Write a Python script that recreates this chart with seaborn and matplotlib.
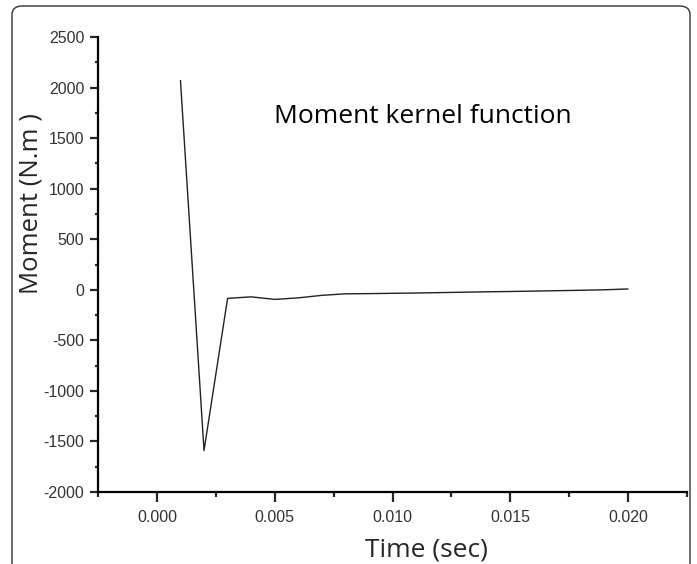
import numpy as np
import pandas as pd
import matplotlib
matplotlib.use("Agg")
import matplotlib.pyplot as plt
import seaborn as sns
from matplotlib.patches import FancyBboxPatch
from matplotlib.ticker import MultipleLocator

time = [0.001, 0.002, 0.003, 0.004, 0.005, 0.006, 0.007, 0.008, 0.009, 0.010,
        0.011, 0.012, 0.013, 0.014, 0.015, 0.016, 0.017, 0.018, 0.019, 0.020]
moment = [2070, -1590, -85, -70, -95, -80, -55, -40, -38, -35,
          -32, -28, -24, -20, -17, -13, -9, -5, 0, 8]
xticks = [0.000, 0.005, 0.010, 0.015, 0.020]
yticks = [-2000, -1500, -1000, -500, 0, 500, 1000, 1500, 2000, 2500]

df = pd.DataFrame({"Time": time, "Moment": moment})

sns.set_style("ticks")
plt.rcParams['font.family'] = ['Liberation Sans', 'DejaVu Sans']

fig = plt.figure(figsize=(6.97, 5.64), dpi=100)
ax = fig.add_axes([98/697, 72/564, 589/697, 455/564])

sns.lineplot(data=df, x="Time", y="Moment", ax=ax, color="#222222", linewidth=1.0)

ax.set_xlim(-0.0025, 0.0225)
ax.set_ylim(-2000, 2500)
ax.set_xticks(xticks)
ax.set_xticklabels([f"{v:.3f}" for v in xticks])
ax.set_yticks(yticks)
ax.set_yticklabels([str(v) for v in yticks])
ax.xaxis.set_minor_locator(MultipleLocator(0.0025))
ax.yaxis.set_minor_locator(MultipleLocator(250))

for s in ["top", "right"]:
    ax.spines[s].set_visible(False)
for s in ["left", "bottom"]:
    ax.spines[s].set_linewidth(1.6)
    ax.spines[s].set_color("black")

ax.tick_params(which="both", width=1.6, labelsize=11.5, labelcolor="#333333")
ax.tick_params(axis="x", which="major", length=7.2, pad=6)
ax.tick_params(axis="x", which="minor", length=3.6)
ax.tick_params(axis="y", which="major", length=5.8, pad=4)
ax.tick_params(axis="y", which="minor", length=2.5)

ax.set_xlabel("Time (sec)", fontsize=19, family="Open Sans")
ax.set_ylabel("Moment (N.m )", fontsize=18.5, family="Open Sans")
ax.xaxis.set_label_coords(0.557, -0.100)
ax.yaxis.set_label_coords(-0.092, 0.635)

ax.text(0.01127, 1710, "Moment kernel function", fontsize=19, family="Open Sans",
        ha="center", va="center", color="black")

frame = FancyBboxPatch((12/697, -0.05), 678/697, (558/564) + 0.05,
                       boxstyle="round,pad=0,rounding_size=0.015",
                       transform=fig.transFigure, fill=False,
                       edgecolor="#333333", linewidth=1.0, clip_on=False)
fig.patches.append(frame)

fig.savefig("out.png", dpi=100)
